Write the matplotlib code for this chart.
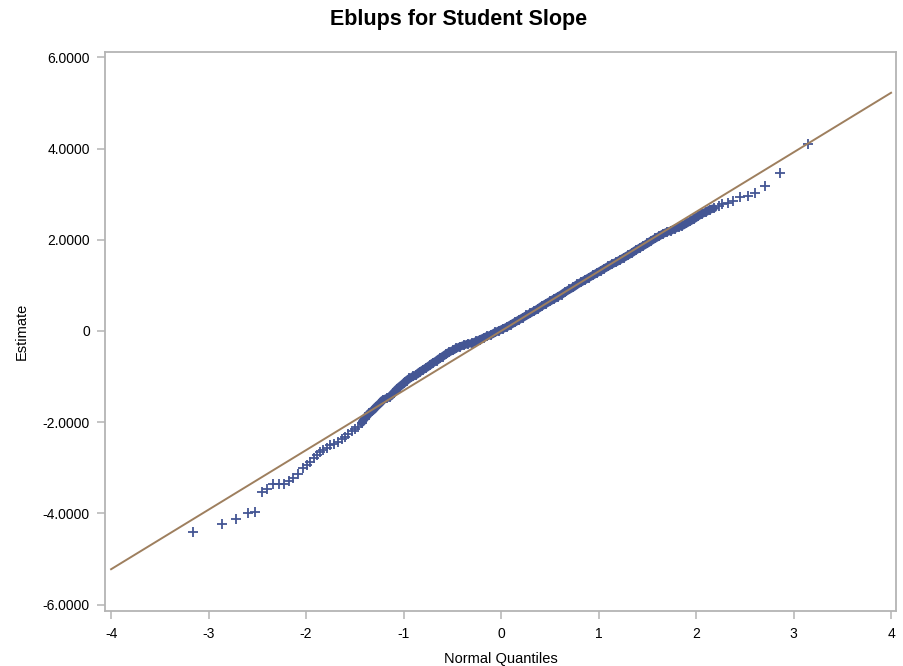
import numpy as np
import matplotlib
matplotlib.use("Agg")
import matplotlib.pyplot as plt

# normal quantiles and the matching EBLUP estimates (student slope)
quantiles = [
    -3.16, -2.86, -2.72, -2.60, -2.52, -2.45, -2.40, -2.34, -2.28, -2.23,
    -2.18, -2.13, -2.08, -2.03, -1.99, -1.96, -1.92, -1.89, -1.86, -1.83,
    -1.79, -1.75, -1.71, -1.67, -1.63, -1.60, -1.57, -1.53, -1.50, -1.47,
    -1.43, -1.40, -1.37, -1.35, -1.31, -1.28, -1.24, -1.21, -1.17, -1.14,
    -1.10, -1.07, -1.04, -1.00, -0.97, -0.94, -0.90, -0.87, -0.83, -0.80,
    -0.77, -0.73, -0.70, -0.66, -0.63, -0.60, -0.56, -0.53, -0.49, -0.46,
    -0.42, -0.38, -0.34, -0.30, -0.26, -0.22, -0.18, -0.14, -0.10, -0.06,
    -0.02, 0.02, 0.06, 0.10, 0.14, 0.18, 0.22, 0.26, 0.30, 0.34,
    0.38, 0.42, 0.46, 0.50, 0.54, 0.58, 0.62, 0.66, 0.70, 0.74,
    0.78, 0.82, 0.86, 0.90, 0.94, 0.98, 1.02, 1.06, 1.10, 1.14,
    1.18, 1.22, 1.26, 1.30, 1.34, 1.38, 1.42, 1.46, 1.50, 1.54,
    1.58, 1.62, 1.66, 1.70, 1.74, 1.78, 1.82, 1.86, 1.90, 1.94,
    1.98, 2.02, 2.06, 2.10, 2.14, 2.18, 2.23, 2.27, 2.33, 2.38,
    2.45, 2.53, 2.60, 2.71, 2.86, 3.15,
]
estimates = [
    -4.40, -4.23, -4.12, -4.00, -3.98, -3.54, -3.47, -3.36, -3.35, -3.35,
    -3.30, -3.22, -3.14, -3.01, -2.93, -2.87, -2.78, -2.72, -2.66, -2.61,
    -2.56, -2.51, -2.47, -2.43, -2.37, -2.32, -2.26, -2.20, -2.15, -2.10,
    -2.01, -1.92, -1.85, -1.80, -1.73, -1.66, -1.58, -1.51, -1.47, -1.44,
    -1.35, -1.28, -1.22, -1.15, -1.09, -1.04, -0.99, -0.96, -0.89, -0.85,
    -0.81, -0.75, -0.70, -0.65, -0.60, -0.56, -0.50, -0.46, -0.42, -0.38,
    -0.34, -0.31, -0.28, -0.27, -0.23, -0.19, -0.15, -0.11, -0.08, -0.03,
    0.01, 0.05, 0.09, 0.14, 0.19, 0.24, 0.29, 0.34, 0.39, 0.44,
    0.49, 0.55, 0.60, 0.65, 0.70, 0.75, 0.80, 0.86, 0.91, 0.96,
    1.02, 1.07, 1.12, 1.17, 1.22, 1.27, 1.32, 1.37, 1.42, 1.47,
    1.51, 1.56, 1.61, 1.66, 1.71, 1.77, 1.82, 1.87, 1.92, 1.98,
    2.03, 2.08, 2.13, 2.17, 2.20, 2.24, 2.28, 2.31, 2.36, 2.41,
    2.46, 2.52, 2.57, 2.61, 2.66, 2.69, 2.74, 2.78, 2.81, 2.84,
    2.93, 2.96, 3.03, 3.18, 3.47, 4.09,
]

# reference line (mean 0, std of the estimates)
ref_intercept = 0.0
ref_slope = 1.306

x_ticks = [-4, -3, -2, -1, 0, 1, 2, 3, 4]
y_ticks = [-6, -4, -2, 0, 2, 4, 6]
y_labels = ["-6.0000", "-4.0000", "-2.0000", "0", "2.0000", "4.0000", "6.0000"]

plt.rcParams['font.family'] = ['Liberation Sans', 'DejaVu Sans']
plt.rcParams['axes.unicode_minus'] = False

q = np.array(quantiles)
est = np.array(estimates)

fig = plt.figure(figsize=(9.04, 6.66), dpi=100)
ax = fig.add_axes([0.1162, 0.0830, 0.875, 0.8394])

blue = '#445694'
brown = '#9E7F5E'

# the middle of the distribution is packed so tight it reads as a band
dense = (q > -1.45) & (q < 2.2)
ax.plot(q[dense], est[dense], color=blue, lw=5.8, solid_capstyle='round', zorder=2)
ax.plot(q, est, linestyle='none', marker='+', markersize=7, mew=1.3,
        color=blue, zorder=3)

xs = np.array([-4, 4])
ax.plot(xs, ref_intercept + ref_slope * xs, color=brown, lw=1.4, zorder=4)

ax.set_xlim(-4.062, 4.051)
ax.set_ylim(-6.134, 6.125)
ax.set_xticks(x_ticks)
ax.set_yticks(y_ticks)
ax.set_yticklabels(y_labels)

for s in ax.spines.values():
    s.set_color('#b4b4b4')
    s.set_linewidth(1.3)
ax.tick_params(direction='out', length=6, width=1.1, color='#b4b4b4',
               labelsize=10, labelcolor='#000000')
ax.tick_params(axis='x', pad=6)
ax.tick_params(axis='y', pad=5)

ax.set_xlabel('Normal Quantiles', fontsize=10.5, labelpad=8)
ax.set_ylabel('Estimate', fontsize=10.5, labelpad=10)
fig.text(0.507, 0.97, 'Eblups for Student Slope', ha='center', va='center',
         fontsize=15.5, fontweight='bold')

fig.savefig('out.png', dpi=100)
